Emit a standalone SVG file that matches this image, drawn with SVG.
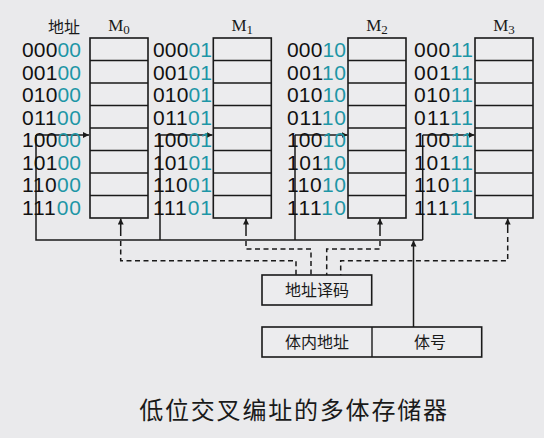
<svg xmlns="http://www.w3.org/2000/svg" width="544" height="438" viewBox="0 0 544 438">
<defs>
<style>
.bg{fill:#eaeaec}
.box{fill:#ececee;stroke:#1a1a1a;stroke-width:1.6}
.row{stroke:#1a1a1a;stroke-width:1.4}
.ln{fill:none;stroke:#1a1a1a;stroke-width:1.5}
.dl{fill:none;stroke:#1a1a1a;stroke-width:1.5;stroke-dasharray:5,3.5}
.ad{font-family:"Liberation Sans",Arial,sans-serif;font-size:21px;fill:#111}
.tl{fill:#1e96a6}
.cn{font-family:"Noto Sans CJK SC",sans-serif;font-size:16px;fill:#1a1a1a}
.m{font-family:"Liberation Serif","Times New Roman",serif;font-size:17px;fill:#1a1a1a}
.ttl{font-family:"Noto Sans CJK SC",sans-serif;font-size:24px;fill:#1a1a1a;letter-spacing:1.8px}
</style>
<marker id="ah" viewBox="0 0 10 10" refX="10" refY="5" markerWidth="6" markerHeight="6" orient="auto" markerUnits="userSpaceOnUse">
<path d="M0,0 L10,5 L0,10 z" fill="#1a1a1a"/>
</marker>
</defs>
<rect class="bg" x="0" y="0" width="544" height="438"/>

<g id="connectors">
<!-- address bus -->
<path class="ln" d="M36,135 V240 H422.7 M160,135 V240 M295,135 V240 M422.7,135 V240"/>
<line class="ln" x1="36" y1="135" x2="89" y2="135" marker-end="url(#ah)"/>
<line class="ln" x1="160" y1="135" x2="212.5" y2="135" marker-end="url(#ah)"/>
<line class="ln" x1="295" y1="135" x2="347.5" y2="135" marker-end="url(#ah)"/>
<line class="ln" x1="422.7" y1="135" x2="474.5" y2="135" marker-end="url(#ah)"/>
<!-- bank number to bus -->
<line class="ln" x1="413.5" y1="327" x2="413.5" y2="240.5" marker-end="url(#ah)"/>
<!-- decoder select lines -->
<line class="ln" x1="120.7" y1="236" x2="120.7" y2="218.5" marker-end="url(#ah)"/>
<line class="ln" x1="246" y1="236" x2="246" y2="218.5" marker-end="url(#ah)"/>
<line class="ln" x1="380" y1="236" x2="380" y2="218.5" marker-end="url(#ah)"/>
<line class="ln" x1="507.7" y1="233" x2="507.7" y2="218.5" marker-end="url(#ah)"/>
<path class="dl" d="M120.7,241 V260.7 H296 V275"/>
<path class="dl" d="M246,241 V249 H311 V275"/>
<path class="dl" d="M380,241 V249 H326.7 V275"/>
<path class="dl" d="M507.7,237 V260.7 H340.7 V275"/>
</g>

<text class="cn" x="48" y="33" font-size="17">地址</text>

<g id="M0">
<rect class="box" x="90" y="38" width="58" height="180"/>
<path class="row" d="M90,60.5 H148 M90,83 H148 M90,105.5 H148 M90,128 H148 M90,150.5 H148 M90,173 H148 M90,195.5 H148"/>
<text class="m" x="119" y="31" text-anchor="middle">M<tspan font-size="13" dy="3">0</tspan></text>
<g class="ad">
<text x="22" y="57" textLength="59" lengthAdjust="spacing">000<tspan class="tl">00</tspan></text>
<text x="22" y="79.5" textLength="59" lengthAdjust="spacing">001<tspan class="tl">00</tspan></text>
<text x="22" y="102" textLength="59" lengthAdjust="spacing">010<tspan class="tl">00</tspan></text>
<text x="22" y="124.5" textLength="59" lengthAdjust="spacing">011<tspan class="tl">00</tspan></text>
<text x="22" y="147" textLength="59" lengthAdjust="spacing">100<tspan class="tl">00</tspan></text>
<text x="22" y="169.5" textLength="59" lengthAdjust="spacing">101<tspan class="tl">00</tspan></text>
<text x="22" y="192" textLength="59" lengthAdjust="spacing">110<tspan class="tl">00</tspan></text>
<text x="22" y="214.5" textLength="59" lengthAdjust="spacing">111<tspan class="tl">00</tspan></text>
</g>
</g>

<g id="M1">
<rect class="box" x="213.3" y="38" width="58" height="180"/>
<path class="row" d="M213.3,60.5 H271.3 M213.3,83 H271.3 M213.3,105.5 H271.3 M213.3,128 H271.3 M213.3,150.5 H271.3 M213.3,173 H271.3 M213.3,195.5 H271.3"/>
<text class="m" x="242.3" y="31" text-anchor="middle">M<tspan font-size="13" dy="3">1</tspan></text>
<g class="ad">
<text x="153" y="57" textLength="59" lengthAdjust="spacing">000<tspan class="tl">01</tspan></text>
<text x="153" y="79.5" textLength="59" lengthAdjust="spacing">001<tspan class="tl">01</tspan></text>
<text x="153" y="102" textLength="59" lengthAdjust="spacing">010<tspan class="tl">01</tspan></text>
<text x="153" y="124.5" textLength="59" lengthAdjust="spacing">011<tspan class="tl">01</tspan></text>
<text x="153" y="147" textLength="59" lengthAdjust="spacing">100<tspan class="tl">01</tspan></text>
<text x="153" y="169.5" textLength="59" lengthAdjust="spacing">101<tspan class="tl">01</tspan></text>
<text x="153" y="192" textLength="59" lengthAdjust="spacing">110<tspan class="tl">01</tspan></text>
<text x="153" y="214.5" textLength="59" lengthAdjust="spacing">111<tspan class="tl">01</tspan></text>
</g>
</g>

<g id="M2">
<rect class="box" x="348" y="38" width="58" height="180"/>
<path class="row" d="M348,60.5 H406 M348,83 H406 M348,105.5 H406 M348,128 H406 M348,150.5 H406 M348,173 H406 M348,195.5 H406"/>
<text class="m" x="377" y="31" text-anchor="middle">M<tspan font-size="13" dy="3">2</tspan></text>
<g class="ad">
<text x="287" y="57" textLength="59" lengthAdjust="spacing">000<tspan class="tl">10</tspan></text>
<text x="287" y="79.5" textLength="59" lengthAdjust="spacing">001<tspan class="tl">10</tspan></text>
<text x="287" y="102" textLength="59" lengthAdjust="spacing">010<tspan class="tl">10</tspan></text>
<text x="287" y="124.5" textLength="59" lengthAdjust="spacing">011<tspan class="tl">10</tspan></text>
<text x="287" y="147" textLength="59" lengthAdjust="spacing">100<tspan class="tl">10</tspan></text>
<text x="287" y="169.5" textLength="59" lengthAdjust="spacing">101<tspan class="tl">10</tspan></text>
<text x="287" y="192" textLength="59" lengthAdjust="spacing">110<tspan class="tl">10</tspan></text>
<text x="287" y="214.5" textLength="59" lengthAdjust="spacing">111<tspan class="tl">10</tspan></text>
</g>
</g>

<g id="M3">
<rect class="box" x="475" y="38" width="58" height="180"/>
<path class="row" d="M475,60.5 H533 M475,83 H533 M475,105.5 H533 M475,128 H533 M475,150.5 H533 M475,173 H533 M475,195.5 H533"/>
<text class="m" x="504" y="31" text-anchor="middle">M<tspan font-size="13" dy="3">3</tspan></text>
<g class="ad">
<text x="414" y="57" textLength="59" lengthAdjust="spacing">000<tspan class="tl">11</tspan></text>
<text x="414" y="79.5" textLength="59" lengthAdjust="spacing">001<tspan class="tl">11</tspan></text>
<text x="414" y="102" textLength="59" lengthAdjust="spacing">010<tspan class="tl">11</tspan></text>
<text x="414" y="124.5" textLength="59" lengthAdjust="spacing">011<tspan class="tl">11</tspan></text>
<text x="414" y="147" textLength="59" lengthAdjust="spacing">100<tspan class="tl">11</tspan></text>
<text x="414" y="169.5" textLength="59" lengthAdjust="spacing">101<tspan class="tl">11</tspan></text>
<text x="414" y="192" textLength="59" lengthAdjust="spacing">110<tspan class="tl">11</tspan></text>
<text x="414" y="214.5" textLength="59" lengthAdjust="spacing">111<tspan class="tl">11</tspan></text>
</g>
</g>

<g id="decoder">
<rect class="box" x="262" y="275" width="109.7" height="30"/>
<text class="cn" x="317" y="296" text-anchor="middle" font-size="17">地址译码</text>
</g>

<g id="address-register">
<rect class="box" x="262" y="327" width="219.7" height="30"/>
<line class="row" x1="372" y1="327" x2="372" y2="357"/>
<text class="cn" x="317" y="348" text-anchor="middle" font-size="17">体内地址</text>
<text class="cn" x="430" y="348" text-anchor="middle" font-size="17">体号</text>
</g>

<text class="ttl" x="294" y="419" text-anchor="middle">低位交叉编址的多体存储器</text>
</svg>
